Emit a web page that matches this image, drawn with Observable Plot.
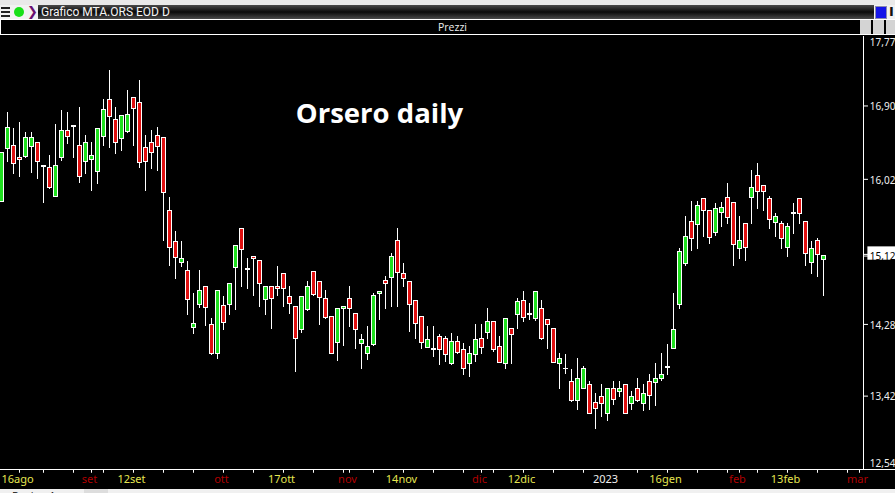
<!DOCTYPE html>
<html lang="it">
<head>
<meta charset="utf-8">
<title>Orsero daily</title>
<script src="https://cdn.jsdelivr.net/npm/d3@7"></script>
<script src="https://cdn.jsdelivr.net/npm/@observablehq/plot@0.6"></script>
<style>
html,body{margin:0;padding:0;background:#000;overflow:hidden;width:895px;height:493px}
#wrap{position:relative;width:895px;height:493px;overflow:hidden;font-family:"Open Sans",sans-serif}
#head{position:relative;height:36px;background:#000}
#top{position:absolute;left:0;top:0;width:895px;height:5px;background:#e9e9e9}
#bar{position:absolute;left:0;top:5px;width:895px;height:14px;background:linear-gradient(#4a4a4a,#0a0a0a 50%,#4a4a4a);color:#f4f4f4;font-size:12px;line-height:14px}
#bar .t{position:absolute;left:41px;top:0;white-space:nowrap;font-family:Roboto,sans-serif}
#ic{position:absolute;left:0;top:0;width:38px;height:14px;background:#f2f2f2}
#ic .m{position:absolute;left:1px;width:9px;height:2px;background:#222}
#ic .g{position:absolute;left:14px;top:2px;width:10px;height:10px;border-radius:50%;background:#18e018}
#ic .c{position:absolute;left:27px;top:0;font:bold 13px/14px "DejaVu Sans",sans-serif;color:#6a1070}
#rb{position:absolute;left:874px;top:0;width:21px;height:14px;background:#f2f2f2}
#rb .b{position:absolute;left:1px;top:1px;width:10px;height:11px;background:#1414e8;border:1px solid #8a8ab0;box-sizing:content-box}
#rb .i{position:absolute;left:15px;top:0;font:bold 13px/14px "DejaVu Sans",sans-serif;color:#111}
#panel{position:absolute;left:0;top:19px;width:895px;height:16px;box-sizing:border-box;border-top:1px solid #fff;border-bottom:1px solid #fff;border-left:1px solid #fff;background:#000;color:#eee;font-size:10.5px;line-height:14px;text-align:center}
#panel span{position:absolute;left:437px;top:0}
#panel .btn{position:absolute;top:0;width:11px;height:14px;background:#d4d4d4}
#foot{position:absolute;left:0;top:489px;width:895px;height:4px;background:#f0f0f0;overflow:hidden;font-size:11px;line-height:14px;color:#111}
#foot span{position:absolute;left:12px;top:0}
#foot i{position:absolute;left:84px;top:0;width:24px;height:4px;background:#ddd}
#plot{position:absolute;left:0;top:36px}
svg{display:block}
</style>
</head>
<body>
<div id="wrap">
  <div id="head">
    <div id="top"></div>
    <div id="bar">
      <div id="ic"><div class="m" style="top:2px"></div><div class="m" style="top:6px"></div><div class="m" style="top:10px"></div><div class="g"></div><div class="c">❯</div></div>
      <div class="t">Grafico MTA.ORS EOD D</div>
      <div id="rb"><div class="b"></div><div class="i">I</div></div>
    </div>
    <div id="panel"><span>Prezzi</span><div class="btn" style="left:859px"></div><div class="btn" style="left:872px"></div><div class="btn" style="left:885px"></div></div>
  </div>
  <div id="plot"></div>
  <div id="foot"><span>Pagina 1</span><i></i></div>
</div>
<script>
const open = [15.75,16.38,16.42,16.28,16.29,16.41,16.46,16.18,16.16,15.81,
16.28,16.60,16.66,16.42,16.23,16.25,16.11,16.53,16.97,16.73,
16.50,16.59,17.00,16.94,16.40,16.46,16.54,16.52,15.64,15.27,
15.02,14.92,14.24,14.51,14.73,14.27,13.93,14.50,14.51,14.96,
15.43,14.95,15.09,15.04,14.57,14.73,14.73,14.89,14.61,14.49,
14.21,14.45,14.91,14.79,14.59,14.37,14.06,14.47,14.59,14.41,
14.05,13.93,14.03,14.64,14.80,14.84,15.28,14.89,14.79,14.56,
14.37,14.00,13.98,14.13,14.11,13.81,14.07,13.97,13.81,13.91,
14.11,14.18,14.31,14.01,13.81,14.23,14.39,14.56,14.40,14.35,
14.47,14.33,14.23,13.81,13.75,13.59,13.36,13.51,13.55,13.34,
13.41,13.21,13.50,13.47,13.55,13.33,13.50,13.33,13.59,13.58,
13.63,13.77,13.99,14.51,15.00,15.51,15.47,15.78,15.64,15.38,
15.62,15.80,15.74,15.18,15.49,15.80,16.06,15.94,15.78,15.50,
15.49,15.20,15.60,15.78,15.51,15.02,15.28,15.05];
const close = [16.33,16.64,16.20,16.25,16.51,16.51,16.23,16.17,15.92,16.18,
16.60,16.53,16.65,16.05,16.46,16.30,16.62,16.85,16.77,16.46,
16.78,16.79,16.86,16.22,16.23,16.34,16.41,15.86,15.20,15.08,
15.06,14.57,14.29,14.68,14.48,13.93,14.68,14.30,14.77,15.22,
15.17,14.93,15.06,14.76,14.73,14.58,14.70,14.70,14.52,14.11,
14.61,14.73,14.63,14.60,14.36,13.93,14.47,14.49,14.47,14.21,
14.09,14.01,14.62,14.67,14.76,15.09,14.90,14.82,14.51,14.29,
14.06,14.09,13.97,13.97,13.91,14.07,13.94,13.75,13.93,14.09,
14.00,14.31,13.97,13.82,14.35,14.15,14.55,14.36,14.39,14.67,
14.11,14.27,13.82,13.87,13.74,13.36,13.63,13.75,13.21,13.27,
13.33,13.51,13.37,13.50,13.21,13.41,13.36,13.44,13.42,13.63,
13.67,13.76,14.21,15.15,15.33,15.30,15.70,15.64,15.32,15.67,
15.68,15.56,15.23,15.28,15.20,15.92,15.87,15.87,15.53,15.57,
15.30,15.45,15.62,15.60,15.12,15.19,15.11,15.10];
const high = [16.33,16.82,16.63,16.70,16.58,16.58,16.46,16.18,16.31,16.68,
16.85,16.82,16.66,16.88,16.55,16.46,16.62,16.98,17.33,16.88,
16.78,17.09,17.00,17.21,16.55,16.61,16.64,16.52,15.80,15.39,
15.28,15.03,14.65,14.93,14.74,14.35,14.68,14.62,14.77,15.22,
15.43,15.07,15.09,15.04,14.73,14.73,14.97,14.89,14.74,14.49,
14.61,14.80,14.91,14.79,14.69,14.37,14.47,14.49,14.74,14.41,
14.16,14.25,14.65,14.67,14.85,15.13,15.43,15.01,14.79,14.56,
14.37,14.26,14.25,14.16,14.13,14.17,14.14,14.05,14.02,14.28,
14.28,14.47,14.31,14.14,14.35,14.23,14.59,14.67,14.53,14.68,
14.57,14.33,14.23,13.93,13.92,13.74,13.87,13.77,13.59,13.45,
13.56,13.51,13.59,13.59,13.55,13.47,13.63,13.56,13.68,13.81,
13.93,14.04,14.65,15.19,15.58,15.76,15.76,15.78,15.64,15.73,
15.74,15.97,15.74,15.58,15.49,16.12,16.21,15.94,15.82,15.61,
15.51,15.49,15.73,15.78,15.51,15.27,15.31,15.10];
const low = [15.74,16.22,16.08,16.04,16.27,16.09,16.02,15.73,15.90,15.80,
16.23,16.44,16.27,15.97,16.08,15.88,15.96,16.41,16.39,16.32,
16.35,16.57,16.41,16.15,15.88,16.14,16.11,15.28,14.97,14.82,
14.96,14.39,14.16,14.47,14.25,13.91,13.86,14.21,14.39,14.45,
14.72,14.70,14.62,14.48,14.39,14.22,14.62,14.48,14.40,13.70,
14.17,14.44,14.61,14.27,14.34,13.92,13.83,14.01,14.24,13.98,
13.74,13.85,14.01,14.33,14.46,14.48,14.48,14.72,14.18,14.10,
13.98,13.99,13.88,13.79,13.82,13.79,13.92,13.67,13.64,13.82,
13.92,14.10,13.94,13.81,13.74,13.80,14.22,14.30,14.33,14.31,
14.09,13.98,13.81,13.50,13.68,13.34,13.25,13.50,13.20,13.02,
13.16,13.11,13.31,13.40,13.20,13.25,13.34,13.23,13.25,13.29,
13.59,13.67,13.98,14.46,14.98,15.15,15.18,15.32,15.24,15.33,
15.44,15.48,14.98,15.06,15.04,15.48,15.66,15.64,15.42,15.32,
15.18,15.08,15.36,15.48,14.97,14.88,14.84,14.62];

const weekTicks = [3,7,12,15,17,22,27,32,37,42,47,52,57,58,62,67,72,77,80,82,87,92,97,106,111,116,121,123,126,131,136,141,143];
const dateLabels = ["16ago","set","12set","ott","17ott","nov","14nov","dic","12dic","2023","16gen","feb","13feb","mar"];
const dateLabelAt = [3,15,22,37,47,58,67,80,87,101,111,123,131,143];
const priceTicks = [16.90,16.02,14.28,13.42];
const priceLabels = ["16,90","16,02","14,28","13,42"];
const lastPrice = 15.12;

const candles = d3.range(open.length).map(i => ({i, o: open[i], h: high[i], l: low[i], c: close[i]}));
const dates = dateLabels.map((t, k) => ({t, i: dateLabelAt[k]}));
const dateColor = t => /^\d{4}$/.test(t) ? "#f0f0f0" : /^\d/.test(t) ? "#e6e650" : "#b00000";
const pts = priceTicks.map((p, k) => ({p, t: priceLabels[k]}));

const xMax = 143.667, tickEnd = 144.5, labelX = 144.72, farRight = 150;
const axisFont = '"Noto Sans",sans-serif';
const priceText = {x: labelX, textAnchor: "start", fill: "#f0f0f0", fontSize: 10, fontFamily: axisFont};

const chart = Plot.plot({
  width: 895, height: 453,
  marginLeft: 0, marginRight: 32, marginTop: 0, marginBottom: 20,
  style: {background: "#000", color: "#fff", overflow: "hidden"},
  x: {type: "linear", domain: [-1/6, xMax], axis: null},
  y: {type: "linear", domain: [12.54, 17.733], axis: null},
  marks: [
    Plot.ruleX(weekTicks, {y1: 12.54, y2: 12.495, stroke: "#fff"}),
    Plot.ruleY([12.54], {x1: -1, x2: farRight, stroke: "#fff"}),
    Plot.ruleX([xMax], {y1: 12.54, y2: 17.733, stroke: "#fff"}),
    Plot.ruleX(candles, {x: "i", y1: "l", y2: "h", stroke: "#fff", strokeWidth: 1, shapeRendering: "crispEdges"}),
    Plot.rect(candles, {
      x1: d => d.i - 0.25, x2: d => d.i + 0.4167,
      y1: "o", y2: "c",
      fill: d => d.c >= d.o ? "#1fe01f" : "#e01010",
      stroke: "#fff", strokeWidth: 1, shapeRendering: "crispEdges"
    }),
    Plot.ruleY(priceTicks, {x1: xMax, x2: tickEnd, stroke: "#fff"}),
    Plot.ruleY([lastPrice, close[close.length - 1]], {x1: xMax, x2: tickEnd, stroke: "#fff"}),
    Plot.text(pts, {...priceText, y: "p", text: "t", dy: 1}),
    Plot.text(["17,77"], {...priceText, y: 17.77, dy: 9}),
    Plot.text(["12,54"], {...priceText, y: 12.54, dy: -6}),
    Plot.rect([lastPrice], {x1: 144.4, x2: farRight, y1: 15.05, y2: 15.21, fill: "#fff"}),
    Plot.text(["15,12"], {...priceText, y: 15.09, fill: "#000"}),
    Plot.text(dates, {x: "i", frameAnchor: "bottom", text: "t", fill: d => dateColor(d.t), fontSize: 11, fontFamily: axisFont, dx: -2, dy: 13}),
    Plot.text(["Orsero daily"], {x: 63, y: 16.80, fill: "#fff", fontWeight: 700, fontSize: 27.5, fontFamily: '"Open Sans",sans-serif'})
  ]
});
document.getElementById("plot").appendChild(chart);
</script>
</body>
</html>
